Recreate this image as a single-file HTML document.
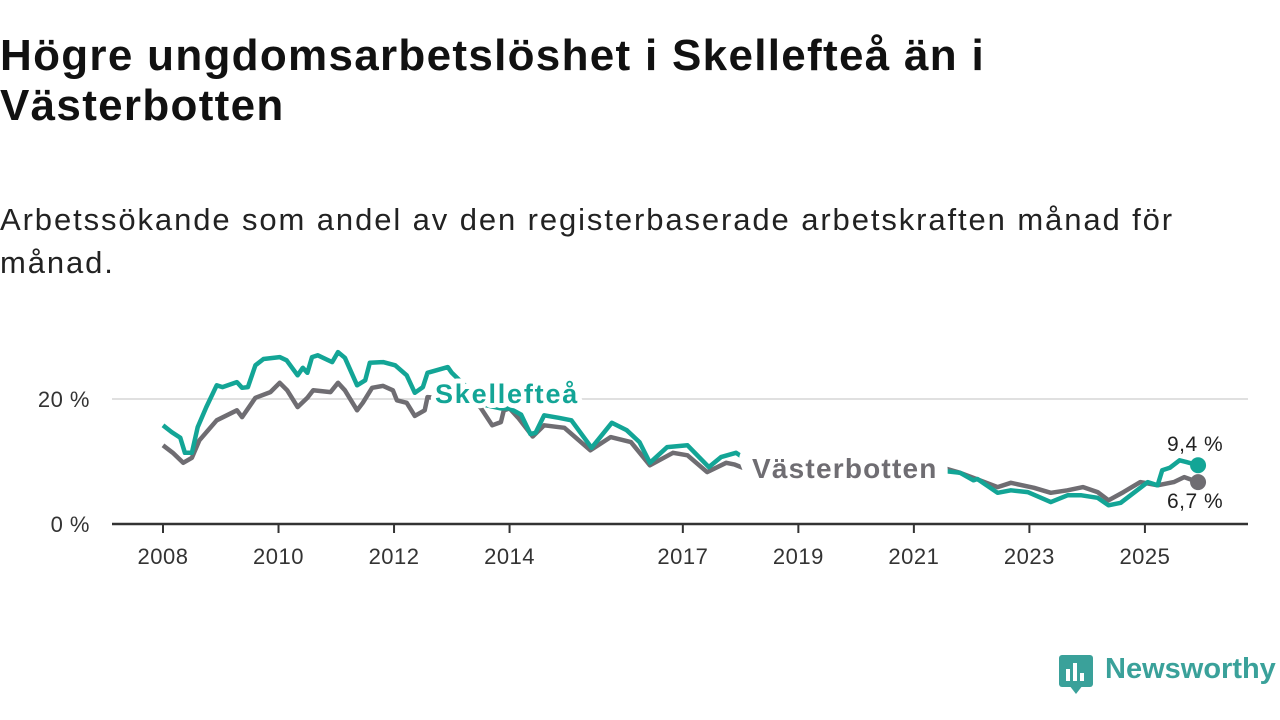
<!DOCTYPE html>
<html><head><meta charset="utf-8">
<style>
body{margin:0;background:#fff;width:1280px;height:720px;overflow:hidden;font-family:"Liberation Sans",sans-serif;}
h1{position:absolute;left:0;top:31px;margin:0;font-size:44px;line-height:50px;font-weight:bold;color:#111;width:1270px;letter-spacing:1.3px;}
.sub{position:absolute;left:0;top:198px;font-size:31px;line-height:43px;color:#222;width:1270px;letter-spacing:1.9px;}
svg{position:absolute;left:0;top:0;}
</style></head><body>
<h1>Högre ungdomsarbetslöshet i Skellefteå än i<br>Västerbotten</h1>
<div class="sub">Arbetssökande som andel av den registerbaserade arbetskraften månad för<br>månad.</div>
<svg id="chart" width="1280" height="720"></svg>
<script>
const yTicks=[0,20];
const yTickLabels=["0 %","20 %"];
const xTicks=[2008,2010,2012,2014,2017,2019,2021,2023,2025];
const skDates=[2008.0,2008.15,2008.3,2008.38,2008.5,2008.6,2008.75,2008.93,2009.03,2009.28,2009.37,2009.47,2009.6,2009.74,2010.02,2010.14,2010.33,2010.42,2010.5,2010.58,2010.68,2010.93,2011.03,2011.15,2011.36,2011.5,2011.58,2011.81,2012.02,2012.22,2012.36,2012.5,2012.58,2012.93,2013.0,2013.3,2013.6,2013.85,2014.0,2014.2,2014.36,2014.45,2014.6,2014.85,2015.07,2015.42,2015.77,2016.03,2016.25,2016.43,2016.73,2017.08,2017.45,2017.66,2017.92,2018.05,2018.5,2019.0,2019.5,2020.0,2020.5,2021.0,2021.5,2021.8,2022.03,2022.1,2022.45,2022.68,2022.97,2023.37,2023.66,2023.9,2024.18,2024.37,2024.58,2024.75,2025.05,2025.22,2025.3,2025.43,2025.6,2025.72,2025.92];
const skValues=[15.8,14.7,13.8,11.4,11.4,15.5,18.7,22.2,21.9,22.7,21.8,21.9,25.4,26.4,26.7,26.2,23.8,25.0,24.2,26.7,27.0,25.9,27.5,26.6,22.2,23.0,25.8,25.9,25.4,23.8,21.0,21.9,24.2,25.1,24.2,21.5,19.0,18.5,18.5,17.5,14.4,14.6,17.4,17.0,16.6,12.2,16.2,15.0,13.1,9.8,12.3,12.6,9.1,10.7,11.4,10.6,9.5,9.0,8.5,9.5,10.0,9.0,8.5,8.2,7.0,7.2,5.0,5.4,5.1,3.5,4.6,4.6,4.2,3.0,3.4,4.6,6.7,6.2,8.6,9.0,10.2,9.9,9.4];
const vbDates=[2008.0,2008.17,2008.35,2008.5,2008.63,2008.93,2009.28,2009.37,2009.6,2009.86,2010.02,2010.15,2010.33,2010.5,2010.6,2010.9,2011.03,2011.15,2011.36,2011.46,2011.62,2011.81,2011.98,2012.05,2012.22,2012.36,2012.53,2012.58,2013.0,2013.4,2013.5,2013.7,2013.85,2013.9,2014.0,2014.15,2014.4,2014.6,2014.95,2015.4,2015.75,2016.1,2016.43,2016.83,2017.08,2017.42,2017.75,2017.9,2018.15,2018.5,2019.0,2019.5,2020.0,2020.5,2021.0,2021.5,2021.8,2022.03,2022.45,2022.68,2023.08,2023.37,2023.66,2023.93,2024.18,2024.37,2024.63,2024.92,2025.22,2025.5,2025.68,2025.92];
const vbValues=[12.6,11.4,9.8,10.6,13.4,16.6,18.2,17.1,20.2,21.1,22.6,21.4,18.7,20.2,21.4,21.1,22.6,21.4,18.2,19.4,21.8,22.1,21.4,19.8,19.4,17.3,18.2,20.3,20.0,19.5,18.6,15.8,16.3,18.2,18.5,17.0,14.0,15.8,15.4,11.8,13.9,13.1,9.4,11.4,11.0,8.3,9.8,9.5,8.6,8.5,8.3,8.5,9.3,10.2,10.0,9.0,8.2,7.4,5.9,6.6,5.8,5.0,5.4,5.9,5.1,3.8,5.1,6.7,6.2,6.7,7.5,6.7];

const NS="http://www.w3.org/2000/svg";
const svg=document.getElementById('chart');
const X=y=>163+(y-2008)*57.76;
const Y=v=>524-v*6.25;
function mk(t,a){const e=document.createElementNS(NS,t);for(const k in a)e.setAttribute(k,a[k]);svg.appendChild(e);return e;}
yTicks.forEach((v,i)=>{
  if(v>0){const g=mk('line',{x1:112,x2:1248,y1:Y(v),y2:Y(v),stroke:'#d6d6d6','stroke-width':1.5});
  
  }
  const t=mk('text',{x:90,y:Y(v)+8,'text-anchor':'end','font-size':22,fill:'#333','font-family':'Liberation Sans, sans-serif','letter-spacing':0.5});
  t.textContent=yTickLabels[i];
  
  
});
const ax=mk('line',{x1:112,x2:1248,y1:524,y2:524,stroke:'#333','stroke-width':2.5});


xTicks.forEach(yr=>{
  const tk=mk('line',{x1:X(yr),x2:X(yr),y1:524,y2:533,stroke:'#333','stroke-width':2});
  
  
  const t=mk('text',{x:X(yr),y:564,'text-anchor':'middle','font-size':22,fill:'#333','font-family':'Liberation Sans, sans-serif','letter-spacing':0.5});
  t.textContent=yr;
  
  
});
function line(d,v,c,name){
  const p=mk('path',{d:d.map((x,i)=>(i?'L':'M')+X(x).toFixed(1)+','+Y(v[i]).toFixed(1)).join(''),fill:'none',stroke:c,'stroke-width':4.5,'stroke-linejoin':'round'});
  
  
  const n=d.length-1;
  const dot=mk('circle',{cx:X(d[n]),cy:Y(v[n]),r:8,fill:c});
  
  
}
line(vbDates,vbValues,'#6f6d72','vasterbotten-line');
line(skDates,skValues,'#13a596','skelleftea-line');
function lab(x,y,s,c,txt,name,bold,halo,ls){
  const t=mk('text',{x:x,y:y,'font-size':s,fill:c,'font-weight':bold?'bold':'normal','font-family':'Liberation Sans, sans-serif',stroke:'#fff','stroke-width':halo,'paint-order':'stroke','stroke-linejoin':'round','letter-spacing':ls});
  t.textContent=txt;
  
  
}
lab(435,403,27,'#13a596','Skellefteå','series-label-skelleftea',true,10,1.8);
lab(752,478,28,'#6f6d72','Västerbotten','series-label-vasterbotten',true,26,1.2);
lab(1167,451,21,'#222','9,4 %','end-value-skelleftea',false,4,0.5);
lab(1167,508,21,'#222','6,7 %','end-value-vasterbotten',false,4,0.5);
</script>
<div style="position:absolute;left:1059px;top:655px;height:40px;">
  <div style="position:absolute;left:0;top:0;width:34px;height:32px;background:#3aa19a;border-radius:3px;"></div>
  <div style="position:absolute;left:10px;top:30px;width:0;height:0;border-left:7px solid transparent;border-right:7px solid transparent;border-top:9px solid #3aa19a;"></div>
  <div style="position:absolute;left:7px;top:14px;width:4px;height:12px;background:#fff"></div>
  <div style="position:absolute;left:14px;top:8px;width:4px;height:18px;background:#fff"></div>
  <div style="position:absolute;left:21px;top:18px;width:4px;height:8px;background:#fff"></div>
  <div style="position:absolute;left:46px;top:-2px;font-size:29px;color:#3aa19a;font-weight:bold;white-space:nowrap;">Newsworthy</div>
</div>
</body></html>
